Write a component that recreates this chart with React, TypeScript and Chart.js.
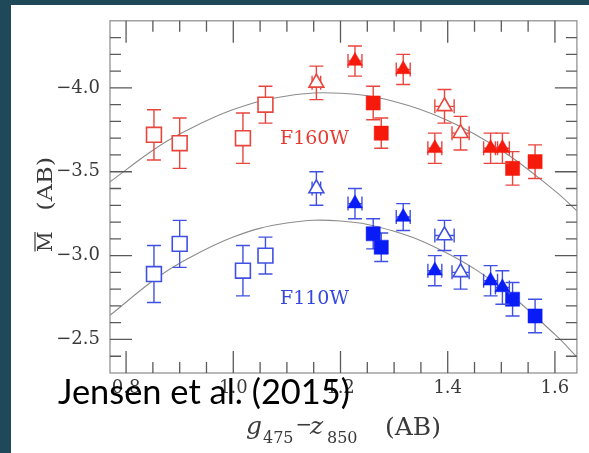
import React, { useEffect, useRef } from "react";
import { Chart, registerables } from "chart.js";

Chart.register(...registerables);

// ---- axes ----
const X_MIN = 0.77;
const X_MAX = 1.641;
const Y_MIN = -4.4;
const Y_MAX = -2.3;
const xMajorTicks = [0.8, 1.0, 1.2, 1.4, 1.6];
const yMajorTicks = [-4.0, -3.5, -3.0, -2.5];
const X_MINOR_STEP = 0.05;
const Y_MINOR_STEP = 0.1;

// ---- shared x positions (g475 - z850) ----
const openSquareX = [0.852, 0.9, 1.018, 1.06];
const openTriangleX = [1.155, 1.394, 1.424];
const openTriangleXErr = [0.008, 0.018, 0.016];
const filledTriangleX = [1.227, 1.317, 1.376, 1.48, 1.502];
const filledTriangleXErr = [0.013, 0.013, 0.013, 0.013, 0.013];
const filledSquareX = [1.261, 1.276, 1.521, 1.563];

// ---- F160W ----
const openSquare160 = [-3.72, -3.67, -3.7, -3.9];
const openSquare160Err = [0.15, 0.15, 0.15, 0.11];
const openTriangle160 = [-4.03, -3.89, -3.73];
const openTriangle160Err = [0.1, 0.1, 0.1];
const filledTriangle160 = [-4.16, -4.11, -3.64, -3.64, -3.64];
const filledTriangle160Err = [0.09, 0.09, 0.09, 0.09, 0.09];
const filledSquare160 = [-3.91, -3.73, -3.52, -3.56];
const filledSquare160Err = [0.1, 0.09, 0.1, 0.1];

// ---- F110W ----
const openSquare110 = [-2.89, -3.07, -2.91, -3.0];
const openSquare110Err = [0.17, 0.14, 0.15, 0.11];
const openTriangle110 = [-3.4, -3.12, -2.9];
const openTriangle110Err = [0.1, 0.09, 0.1];
const filledTriangle110 = [-3.31, -3.23, -2.91, -2.85, -2.81];
const filledTriangle110Err = [0.09, 0.08, 0.09, 0.09, 0.1];
const filledSquare110 = [-3.13, -3.05, -2.74, -2.64];
const filledSquare110Err = [0.09, 0.085, 0.1, 0.1];

// ---- fitted curves ----
const curveX = [0.77, 0.85, 0.9, 1.0, 1.1, 1.2, 1.3, 1.4, 1.5, 1.6, 1.641];
const curve160 = [-3.44, -3.628, -3.725, -3.871, -3.952, -3.968, -3.919, -3.806, -3.628, -3.386, -3.267];
const curve110 = [-2.644, -2.85, -2.955, -3.111, -3.194, -3.206, -3.145, -3.012, -2.808, -2.53, -2.396];

const RED = "#f51a0c";
const RED_LINE = "#e8453d";
const BLUE = "#0a1cf5";
const BLUE_LINE = "#4050e2";
const SERIF = '"DejaVu Serif"';

const pts = (xs: number[], ys: number[]) => xs.map((x, i) => ({ x, y: ys[i] }));
const fmt = (v: number) => (v < 0 ? "\u2212" : "") + Math.abs(v).toFixed(1);

function markerSet(
  label: string,
  xs: number[],
  ys: number[],
  errY: number[],
  errX: number[] | null,
  shape: string,
  filled: boolean,
  fillCol: string,
  lineCol: string
): any {
  const isRect = shape === "rect";
  return {
    label,
    data: pts(xs, ys),
    pointStyle: shape,
    pointRadius: isRect ? (filled ? 10 : 10.5) : 8.6,
    pointHoverRadius: isRect ? 10 : 8.6,
    backgroundColor: filled ? fillCol : "#ffffff",
    borderColor: filled ? fillCol : lineCol,
    borderWidth: filled ? 0.5 : 1.6,
    showLine: false,
    order: 1,
    errY,
    errX,
    errColor: lineCol,
  };
}

const decoPlugin = {
  id: "deco",
  beforeDraw(chart: any) {
    const ctx = chart.ctx;
    ctx.save();
    ctx.fillStyle = "#1f4858";
    ctx.fillRect(0, 0, chart.width, chart.height);
    ctx.fillStyle = "#ffffff";
    ctx.fillRect(11, 5, chart.width - 11, chart.height - 5);
    ctx.restore();
  },
  beforeDatasetDraw(chart: any, args: any) {
    const ds = chart.data.datasets[args.index];
    if (!ds.errY) return;
    const ctx = chart.ctx;
    const xs = chart.scales.x;
    const ys = chart.scales.y;
    const a = chart.chartArea;
    const cap = 7;
    ctx.save();
    ctx.beginPath();
    ctx.rect(a.left, a.top, a.right - a.left, a.bottom - a.top);
    ctx.clip();
    ctx.strokeStyle = ds.errColor;
    ctx.lineWidth = 1.4;
    ds.data.forEach((p: any, i: number) => {
      const px = xs.getPixelForValue(p.x);
      const py = ys.getPixelForValue(p.y);
      const e = ds.errY[i];
      const t = ys.getPixelForValue(p.y - e);
      const b = ys.getPixelForValue(p.y + e);
      ctx.beginPath();
      ctx.moveTo(px, t);
      ctx.lineTo(px, b);
      ctx.moveTo(px - cap, t);
      ctx.lineTo(px + cap, t);
      ctx.moveTo(px - cap, b);
      ctx.lineTo(px + cap, b);
      if (ds.errX && ds.errX[i]) {
        const l = xs.getPixelForValue(p.x - ds.errX[i]);
        const r = xs.getPixelForValue(p.x + ds.errX[i]);
        ctx.moveTo(l, py);
        ctx.lineTo(r, py);
        ctx.moveTo(l, py - cap);
        ctx.lineTo(l, py + cap);
        ctx.moveTo(r, py - cap);
        ctx.lineTo(r, py + cap);
      }
      ctx.stroke();
    });
    ctx.restore();
  },
  afterDraw(chart: any) {
    const ctx = chart.ctx;
    const a = chart.chartArea;
    const xs = chart.scales.x;
    const ys = chart.scales.y;
    ctx.save();
    // frame
    ctx.strokeStyle = "#8a8a8a";
    ctx.lineWidth = 1.2;
    ctx.strokeRect(a.left, a.top, a.right - a.left, a.bottom - a.top);
    // ticks (inward, all four sides)
    ctx.strokeStyle = "#5a5a5a";
    ctx.lineWidth = 1.3;
    const MAJ = 22;
    const MIN = 11;
    ctx.beginPath();
    for (let v = 0.8; v <= X_MAX + 1e-9; v += X_MINOR_STEP) {
      const vv = Math.round(v * 100) / 100;
      const major = xMajorTicks.some((m) => Math.abs(m - vv) < 1e-6);
      const len = major ? MAJ : MIN;
      const px = xs.getPixelForValue(vv);
      ctx.moveTo(px, a.top);
      ctx.lineTo(px, a.top + len);
      ctx.moveTo(px, a.bottom);
      ctx.lineTo(px, a.bottom - len);
    }
    for (let v = -4.3; v <= Y_MAX - 0.05; v += Y_MINOR_STEP) {
      const vv = Math.round(v * 10) / 10;
      const major = yMajorTicks.some((m) => Math.abs(m - vv) < 1e-6);
      const len = major ? MAJ : MIN;
      const py = ys.getPixelForValue(vv);
      ctx.moveTo(a.left, py);
      ctx.lineTo(a.left + len, py);
      ctx.moveTo(a.right, py);
      ctx.lineTo(a.right - len, py);
    }
    ctx.stroke();

    // filter labels
    ctx.font = `19px ${SERIF}`;
    ctx.textBaseline = "alphabetic";
    ctx.textAlign = "left";
    ctx.fillStyle = "#e8392f";
    ctx.fillText("F160W", 280, 144);
    ctx.fillStyle = "#3547e0";
    ctx.fillText("F110W", 280, 304);

    // x-axis title: g475 − z850 (AB)
    ctx.fillStyle = "#3a3a3a";
    ctx.font = `italic 25px ${SERIF}`;
    ctx.fillText("g", 246, 434);
    ctx.font = `16px ${SERIF}`;
    ctx.fillText("475", 263, 443);
    ctx.font = `20px ${SERIF}`;
    ctx.textAlign = "center";
    ctx.fillText("\u2212", 304, 431);
    ctx.textAlign = "left";
    ctx.font = `italic 25px ${SERIF}`;
    ctx.fillText("z", 310, 434);
    ctx.font = `16px ${SERIF}`;
    ctx.fillText("850", 327, 443);
    ctx.font = `25px ${SERIF}`;
    ctx.fillText("(AB)", 385, 435);

    // y-axis title: M̄ (AB), rotated
    ctx.save();
    ctx.translate(52, 252);
    ctx.rotate(-Math.PI / 2);
    ctx.font = `20px ${SERIF}`;
    ctx.fillText("M", 0, 0);
    const wM = ctx.measureText("M").width;
    ctx.strokeStyle = "#3a3a3a";
    ctx.lineWidth = 1.2;
    ctx.beginPath();
    ctx.moveTo(0.5, -17);
    ctx.lineTo(wM - 0.5, -17);
    ctx.stroke();
    const wAB = ctx.measureText("(AB)").width;
    const sx = 1.2;
    ctx.translate(95 - wAB * sx, 0);
    ctx.scale(sx, 1);
    ctx.fillText("(AB)", 0, 0);
    ctx.restore();

    // citation overlay
    ctx.fillStyle = "#000000";
    ctx.font = `32px Lato`;
    const w = ctx.measureText("Jensen et al. (2015)").width;
    const size = (32 * 292) / w;
    ctx.font = `${size.toFixed(2)}px Lato`;
    ctx.textAlign = "left";
    ctx.fillText("Jensen et al. (2015)", 58, 404);
    ctx.restore();
  },
};

export default function App() {
  const ref = useRef<HTMLCanvasElement | null>(null);

  useEffect(() => {
    if (!ref.current) return;
    const datasets: any[] = [
      {
        label: "F160W fit",
        data: pts(curveX, curve160),
        showLine: true,
        pointRadius: 0,
        borderColor: "#8c8c8c",
        borderWidth: 1.1,
        tension: 0.4,
        order: 2,
      },
      {
        label: "F110W fit",
        data: pts(curveX, curve110),
        showLine: true,
        pointRadius: 0,
        borderColor: "#8c8c8c",
        borderWidth: 1.1,
        tension: 0.4,
        order: 2,
      },
      markerSet("F160W open sq", openSquareX, openSquare160, openSquare160Err, null, "rect", false, RED, RED_LINE),
      markerSet("F160W open tri", openTriangleX, openTriangle160, openTriangle160Err, openTriangleXErr, "triangle", false, RED, RED_LINE),
      markerSet("F160W tri", filledTriangleX, filledTriangle160, filledTriangle160Err, filledTriangleXErr, "triangle", true, RED, RED_LINE),
      markerSet("F160W sq", filledSquareX, filledSquare160, filledSquare160Err, null, "rect", true, RED, RED_LINE),
      markerSet("F110W open sq", openSquareX, openSquare110, openSquare110Err, null, "rect", false, BLUE, BLUE_LINE),
      markerSet("F110W open tri", openTriangleX, openTriangle110, openTriangle110Err, openTriangleXErr, "triangle", false, BLUE, BLUE_LINE),
      markerSet("F110W tri", filledTriangleX, filledTriangle110, filledTriangle110Err, filledTriangleXErr, "triangle", true, BLUE, BLUE_LINE),
      markerSet("F110W sq", filledSquareX, filledSquare110, filledSquare110Err, null, "rect", true, BLUE, BLUE_LINE),
    ];

    const chart = new Chart(ref.current, {
      type: "scatter",
      data: { datasets },
      options: {
        animation: false,
        responsive: false,
        devicePixelRatio: 1,
        layout: { padding: { left: 0, right: 8, top: 20, bottom: 0 } },
        plugins: {
          legend: { display: false },
          tooltip: { enabled: false },
          title: { display: false },
        },
        scales: {
          x: {
            type: "linear",
            min: X_MIN,
            max: X_MAX,
            grid: { display: false, drawTicks: false },
            border: { display: false },
            afterBuildTicks: (s: any) => {
              s.ticks = xMajorTicks.map((v) => ({ value: v }));
            },
            afterFit: (s: any) => {
              s.height = 80;
            },
            ticks: {
              padding: 5,
              color: "#3a3a3a",
              font: { family: "DejaVu Serif", size: 18 },
              maxRotation: 0,
              autoSkip: false,
              callback: (v: any) => Number(v).toFixed(1),
            },
          },
          y: {
            type: "linear",
            min: Y_MIN,
            max: Y_MAX,
            reverse: true,
            grid: { display: false, drawTicks: false },
            border: { display: false },
            afterBuildTicks: (s: any) => {
              s.ticks = yMajorTicks.map((v) => ({ value: v }));
            },
            afterFit: (s: any) => {
              s.width = 110;
            },
            ticks: {
              padding: 10,
              color: "#3a3a3a",
              font: { family: "DejaVu Serif", size: 18 },
              autoSkip: false,
              callback: (v: any) => fmt(Number(v)),
            },
          },
        },
      } as any,
      plugins: [decoPlugin],
    });
    return () => chart.destroy();
  }, []);

  return (
    <div style={{ position: "absolute", left: 0, top: 0, width: 589, height: 453 }}>
      <canvas ref={ref} width={589} height={453} style={{ width: 589, height: 453, display: "block" }} />
    </div>
  );
}
